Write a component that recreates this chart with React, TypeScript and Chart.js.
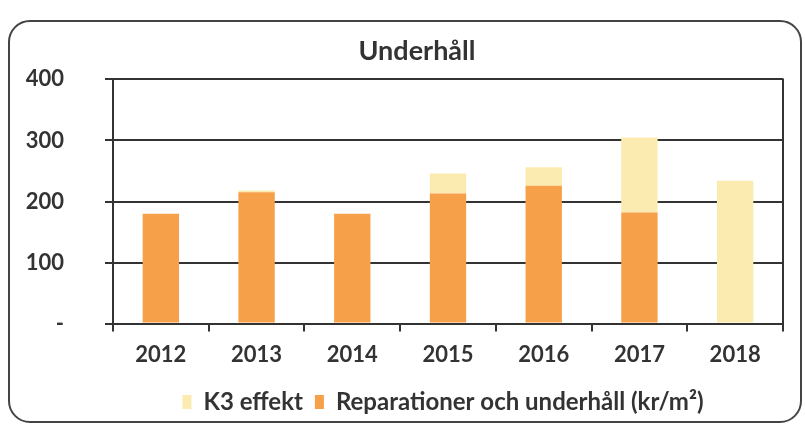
import React, { useEffect, useRef } from "react";
import { Chart, registerables } from "chart.js";

Chart.register(...registerables);

const categories = ["2012", "2013", "2014", "2015", "2016", "2017", "2018"];
const reparationer = [180, 215, 180, 213, 226, 182, 0];
const k3effekt = [0, 3, 0, 33, 30, 123, 234];
const yTickLabels: Record<number, string> = { 0: "-", 100: "100", 200: "200", 300: "300", 400: "400" };

const FONT = "Lato";
const INK = "#333";

const frame = {
  id: "frame",
  afterLayout(chart: any) {
    // centre title and legend the way the original sheet does
    if (chart.titleBlock) {
      chart.titleBlock.left += 13;
      chart.titleBlock.right += 13;
    }
    if (chart.legend) {
      chart.legend.left += 39;
      chart.legend.right += 39;
    }
  },
  afterDraw(chart: any) {
    const { ctx, chartArea } = chart;
    ctx.save();
    ctx.strokeStyle = INK;
    ctx.lineWidth = 2;
    ctx.beginPath();
    ctx.moveTo(chartArea.right, chartArea.top - 1);
    ctx.lineTo(chartArea.right, chartArea.bottom);
    ctx.stroke();
    ctx.restore();
  },
};

export default function App() {
  const ref = useRef<HTMLCanvasElement>(null);
  useEffect(() => {
    if (!ref.current) return;
    const chart = new Chart(ref.current, {
      type: "bar",
      data: {
        labels: categories,
        datasets: [
          {
            label: "Reparationer och underhåll (kr/m²)",
            data: reparationer,
            backgroundColor: "#F7A04A",
            barPercentage: 0.38,
            categoryPercentage: 1,
          },
          {
            label: "K3 effekt",
            data: k3effekt,
            backgroundColor: "#FCEBB0",
            barPercentage: 0.38,
            categoryPercentage: 1,
          },
        ],
      },
      options: {
        animation: false,
        responsive: false,
        layout: { padding: { left: 25, right: 22, bottom: 0, top: 0 } },
        plugins: {
          title: {
            display: true,
            text: "Underhåll",
            color: INK,
            font: { family: FONT, size: 27, weight: "bold" },
            padding: { top: 35, bottom: 12 },
          },
          legend: {
            position: "bottom",
            reverse: true,
            labels: {
              color: INK,
              font: { family: FONT, size: 24, weight: "bold" },
              boxWidth: 9,
              boxHeight: 14,
              padding: 12,
            },
          },
          tooltip: { enabled: false },
        },
        scales: {
          x: {
            stacked: true,
            grid: {
              display: true,
              offset: true,
              drawOnChartArea: false,
              tickLength: 8,
              color: INK,
              lineWidth: 2,
            },
            border: { display: true, color: INK, width: 2 },
            ticks: {
              color: INK,
              font: { family: FONT, size: 22, weight: "bold" },
              padding: 10,
              maxRotation: 0,
            },
          },
          y: {
            stacked: true,
            min: 0,
            max: 400,
            afterFit: (scale: any) => {
              scale.width = 88;
            },
            grid: { color: INK, lineWidth: 2, tickLength: 8 },
            border: { display: true, color: INK, width: 2 },
            ticks: {
              stepSize: 100,
              color: INK,
              font: { family: FONT, size: 22, weight: "bold" },
              padding: 41,
              callback: (v: any) => yTickLabels[v as number] ?? String(v),
            },
          },
        },
      },
      plugins: [frame],
    });
    return () => chart.destroy();
  }, []);
  return (
    <div style={{ position: "fixed", left: 0, top: 0, width: 805, height: 425, background: "#fff" }}>
      <div
        style={{
          position: "absolute",
          left: 8,
          top: 20,
          width: 790,
          height: 399,
          border: "2px solid #444",
          borderRadius: 22,
        }}
      />
      <canvas ref={ref} width={805} height={424} style={{ position: "absolute", left: 0, top: 0 }} />
    </div>
  );
}
